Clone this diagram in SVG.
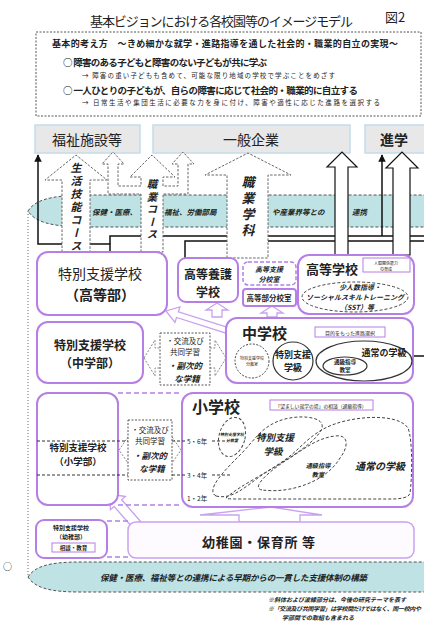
<svg xmlns="http://www.w3.org/2000/svg" width="424" height="633" viewBox="0 0 424 633">
<defs>
<style>
text{font-family:"Noto Sans CJK JP","Noto Sans",sans-serif;fill:#222}
.b{font-weight:bold}
.i{font-style:italic;font-weight:bold}
.m{text-anchor:middle}
.v{writing-mode:vertical-rl}
.pb{fill:#fff;stroke:#b57fe6;stroke-width:2}
.pl{fill:#fff;stroke:#b57fe6;stroke-width:1}
.pd{fill:none;stroke:#b57fe6;stroke-width:1.5;stroke-dasharray:5 3}
.pdb{fill:#fff;stroke:#b57fe6;stroke-width:1.5;stroke-dasharray:4 2}
.da{fill:#fff;stroke:#666;stroke-width:1;stroke-dasharray:2.5 1.5}
.sa{fill:#fff;stroke:#111;stroke-width:1.2}
.bl{fill:none;stroke:#111;stroke-width:1.5}
.teal{fill:#bfe2e4;stroke:#555;stroke-width:1;stroke-dasharray:3 2}
.dest{fill:#e8e8e8;stroke:#c5dced;stroke-width:1.5}
.ha{fill:#fff;stroke:#c7a2ee;stroke-width:1.3}
.xa{fill:#fff;stroke:#888;stroke-width:1;stroke-dasharray:2 1.5}
.xb{fill:#fff;stroke:#555;stroke-width:1;stroke-dasharray:2 1.5}
.blob{fill:none;stroke:#444;stroke-width:1;stroke-dasharray:3 2}
.gl{fill:none;stroke:#333;stroke-width:1;stroke-dasharray:3 2}
</style>
<marker id="ah" viewBox="0 0 10 10" refX="9" refY="5" markerWidth="5" markerHeight="5" orient="auto"><path d="M0,0 L10,5 L0,10 z" fill="#111"/></marker>
</defs>
<rect width="424" height="633" fill="#fff"/>

<g id="title">
<text x="90" y="26" font-size="13" textLength="263">基本ビジョンにおける各校園等のイメージモデル</text>
<text x="385" y="22" font-size="13">図2</text>
</g>

<g id="header">
<rect x="36" y="32" width="385" height="84" fill="#fff" stroke="#555" stroke-width="1" stroke-dasharray="2 1.5"/>
<text x="52" y="47" font-size="9" class="b" textLength="346">基本的考え方　～きめ細かな就学・進路指導を通した社会的・職業的自立の実現～</text>
<text x="63" y="66" font-size="9.5" class="b" textLength="204">○ 障害のある子どもと障害のない子どもが共に学ぶ</text>
<text x="82" y="78" font-size="6.5" textLength="253">→ 障害の重い子どもも含めて、可能な限り地域の学校で学ぶことをめざす</text>
<text x="63" y="94" font-size="9.5" class="b" textLength="295">○ 一人ひとりの子どもが、自らの障害に応じて社会的・職業的に自立する</text>
<text x="82" y="105" font-size="6.5" textLength="298">→ 日常生活や集団生活に必要な力を身に付け、障害や適性に応じた進路を選択する</text>
</g>

<g id="dest-welfare"><rect class="dest" x="35" y="125" width="105" height="28"/><text x="87" y="145" font-size="14" class="m" fill="#444">福祉施設等</text></g>
<g id="dest-company"><rect class="dest" x="153" y="125" width="197" height="28"/><text x="251" y="145" font-size="14" class="m">一般企業</text></g>
<g id="dest-further"><rect class="dest" x="365" y="125" width="62" height="28"/><text x="394" y="145" font-size="14" class="m b">進学</text></g>

<g id="band-top">
<path class="teal" d="M28,211 C35,200 50,196 80,195 L430,195 L430,227 L80,227 C50,226 35,222 28,211 Z"/>
<text x="92" y="215" font-size="7.5" class="i">保健・医療、</text>
<text x="164" y="215" font-size="7.5" class="i">福祉、労働部局</text>
<text x="272" y="215" font-size="7.5" class="i">や産業界等との</text>
<text x="352" y="215" font-size="7.5" class="i">連携</text>
</g>

<line x1="28" y1="211" x2="28" y2="577" stroke="#666" stroke-width="1" stroke-dasharray="1 2"/>

<g id="connectors">
<path class="bl" d="M110,252 V244 H38 V155" marker-end="url(#ah)"/>
<path class="bl" d="M110,244 V236 H430"/>
<path class="bl" d="M382,236 V155" marker-end="url(#ah)"/>
<path class="bl" d="M185,258 V241 H430"/>
<line class="bl" x1="413" y1="356" x2="424" y2="356"/>

<path class="da" d="M62,252 V180 H45 L76,155 L107,180 H90 V252 Z"/>
<path class="da" d="M141,252 V194 H108 V164 H102 L113,152 L124,164 H118 V186 H141 V177 H130 L152,155 L175,177 H163 V186 H178 V164 H172 L183,152 L194,164 H188 V194 H163 V252 Z"/>
<path class="da" d="M227,258 V175 H205 L248,153 L291,175 H268 V258 Z"/>
<path class="sa" d="M335,255 V167 H327 L342,152 L357,167 H348 V255 Z"/>
<path class="sa" d="M393,255 V168 H386 L402,152 L418,168 H410 V255 Z"/>
<text x="76" y="162" font-size="11" letter-spacing="2" class="v i">生活技能コース</text>
<text x="152" y="179" font-size="10.5" letter-spacing="2" class="v i">職業コース</text>
<text x="248" y="176" font-size="13" letter-spacing="3" class="v i">職業学科</text>

<polygon class="ha" points="226.9,327.1 178.4,311.8 179.9,307 166,311 175,322.3 176.5,317.5 225.1,332.9"/>
<polygon class="ha" points="212,317 212,310 206,310 217,303 228,310 222,310 222,317"/>
<polygon class="ha" points="267,317 267,313 261,313 272,306 283,313 277,313 277,317"/>
<polygon class="ha" points="140.8,521.7 121.7,499.8 125.4,496.5 110,494 110.4,509.7 114.1,506.4 133.2,528.3"/>
<polygon class="ha" points="239,522 239,515 200,515 271,507 322,515 300,515 300,522"/>

<path class="pd" d="M118,393 H182 M118,505 H182 M107,521 H128 M107,557 H128"/>

<polygon class="xa" points="144,358 155,340 155,348 215,348 215,340 226,358 215,376 215,368 155,368 155,376"/>
<polygon class="xa" points="119,450 130,434 130,441 170,441 170,434 181,450 170,466 170,459 130,459 130,466"/>
</g>

<g id="sp-high">
<rect class="pb" x="37" y="252" width="130" height="63" rx="11"/>
<text x="100" y="279" font-size="14" class="m">特別支援学校</text>
<text x="100" y="300" font-size="14" class="m b">（高等部）</text>
</g>

<g id="koto-yogo">
<rect class="pb" x="178" y="258" width="60" height="44" rx="8"/>
<text x="208" y="279" font-size="12" class="m b">高等養護</text>
<text x="208" y="297" font-size="12" class="m b">学校</text>
</g>

<g id="shien-bunko">
<rect class="pdb" x="243" y="262" width="53" height="23" rx="5"/>
<text x="269" y="272" font-size="7" class="m i">高等支援</text>
<text x="269" y="282" font-size="7" class="m i">分校室</text>
</g>

<g id="kotobu-bunko">
<rect class="pb" x="243" y="289" width="53" height="17" rx="3"/>
<text x="269" y="301" font-size="7.5" class="m b">高等部分校室</text>
</g>

<g id="high-school">
<rect class="pb" x="298" y="255" width="116" height="59" rx="11"/>
<text x="332" y="274" font-size="13" class="m b">高等学校</text>
<rect class="pl" x="363" y="258" width="47" height="14"/>
<text x="386" y="264.5" font-size="4" class="m">人間関係能力</text>
<text x="386" y="270.5" font-size="4" class="m">の育成</text>
<ellipse cx="355" cy="297" rx="53" ry="15" fill="#fff" stroke="#444" stroke-width="1" stroke-dasharray="3 2"/>
<text x="360" y="289.5" font-size="7" class="m i">少人数指導・</text>
<text x="355" y="299.5" font-size="7" class="m i">ソーシャルスキルトレーニング</text>
<text x="357" y="309.5" font-size="7" class="m i">（SST）等</text>
</g>

<g id="sp-junior">
<rect class="pb" x="37" y="322" width="106" height="61" rx="11"/>
<text x="90" y="350" font-size="12" class="m b">特別支援学校</text>
<text x="90" y="368" font-size="12" class="m b">（中学部）</text>
</g>

<g id="exchange-junior">
<rect class="xb" x="160" y="333" width="50" height="52"/>
<text x="185" y="344" font-size="7.5" class="m">・交流及び</text>
<text x="185" y="355" font-size="7.5" class="m">共同学習</text>
<text x="185" y="369" font-size="8.5" class="m i">・副次的</text>
<text x="187" y="381.5" font-size="8.5" class="m i">な学籍</text>
</g>

<g id="junior-high">
<rect class="pb" x="226" y="318" width="187" height="65" rx="11"/>
<text x="242" y="339" font-size="15" class="b">中学校</text>
<rect class="pl" x="315" y="327" width="70" height="10"/>
<text x="350" y="334.5" font-size="5" class="m">目的をもった進路選択</text>
<circle cx="252" cy="361" r="17" fill="none" stroke="#444" stroke-width="1" stroke-dasharray="2 1.5"/>
<text x="252" y="360" font-size="4" class="m">特別支援学校</text>
<text x="252" y="366" font-size="4" class="m">分教室</text>
<ellipse cx="293" cy="361" rx="20" ry="19" fill="none" stroke="#333" stroke-width="1.2"/>
<text x="293" y="358" font-size="9" class="m b">特別支援</text>
<text x="293" y="371" font-size="9" class="m b">学級</text>
<ellipse cx="364" cy="361" rx="48" ry="20" fill="none" stroke="#333" stroke-width="1.2"/>
<text x="384" y="356" font-size="9" class="m b">通常の学級</text>
<ellipse cx="345" cy="366" rx="22" ry="9" fill="none" stroke="#333" stroke-width="1.2"/>
<text x="345" y="363.5" font-size="5.5" class="m b">通級指導</text>
<text x="345" y="371.5" font-size="5.5" class="m b">教室</text>
</g>

<g id="sp-elem">
<rect class="pb" x="37" y="393" width="81" height="112" rx="11"/>
<text x="78" y="451" font-size="9.5" class="m b">特別支援学校</text>
<text x="78" y="465" font-size="9.5" class="m b">（小学部）</text>
</g>

<g id="exchange-elem">
<rect class="xb" x="128" y="420" width="44" height="60"/>
<text x="150" y="433" font-size="7.5" class="m">・交流及び</text>
<text x="150" y="444" font-size="7.5" class="m">共同学習</text>
<text x="150" y="459" font-size="8.5" class="m i">・副次的</text>
<text x="152" y="471.5" font-size="8.5" class="m i">な学籍</text>
</g>

<g id="elementary">
<rect class="pb" x="182" y="393" width="231" height="114" rx="11"/>
<text x="192" y="413" font-size="16" class="b">小学校</text>
<rect class="pl" x="270" y="400" width="103" height="10"/>
<text x="321" y="407.5" font-size="4.8" class="m">「望ましい就学の場」の相談（通級指導）</text>
<path class="blob" d="M226,498 C240,485 270,472 290,456 C305,444 315,428 345,421 C370,415 400,416 408,428 C413,440 412,480 410,493 C409,498 400,499 390,499 L240,499 C232,499 226,499 226,498 Z"/>
<path class="blob" d="M216,496 C205,490 225,470 240,455 C255,440 262,425 285,419 C305,414 330,418 320,432 C310,447 285,460 262,475 C245,487 232,500 216,496 Z"/>
<path class="blob" d="M262,490 C250,488 270,470 290,458 C305,448 318,438 335,436 C350,434 348,448 340,458 C330,475 310,485 290,489 C280,491 270,491 262,490 Z"/>
<ellipse class="blob" cx="232" cy="437" rx="13" ry="20" transform="rotate(15 232 437)"/>
<text x="232" y="436" font-size="4" class="m i">特別支援学校</text>
<text x="232" y="442" font-size="4" class="m i">分教室</text>
<text x="275" y="441" font-size="9.5" class="m i">特別支援</text>
<text x="273" y="455" font-size="9.5" class="m i">学級</text>
<text x="318" y="468" font-size="6.2" class="m i">通級指導</text>
<text x="318" y="477" font-size="6.2" class="m i">教室</text>
<text x="380" y="470" font-size="10" class="m i">通常の学級</text>
<text x="187" y="444" font-size="6.5">5・6年</text>
<text x="187" y="478" font-size="6.5">3・4年</text>
<text x="187" y="501" font-size="6.5">1・2年</text>
</g>
<path class="gl" d="M37,441 H128 M172,441 H186 M212,441 H228 M37,475 H128 M172,475 H186 M212,475 H230"/>

<g id="sp-kinder">
<rect class="pb" x="36" y="520" width="71" height="38" rx="8"/>
<text x="71" y="530" font-size="6" class="m b">特別支援学校</text>
<text x="71" y="539" font-size="6" class="m b">（幼稚部）</text>
<rect class="pl" x="52" y="543" width="43" height="9"/>
<text x="73.5" y="550" font-size="5.5" class="m b">相談・教育</text>
</g>

<g id="kindergarten">
<rect x="128" y="522" width="286" height="36" rx="8" fill="#fdfbff" stroke="#c9a2ee" stroke-width="1.5"/>
<text x="202" y="547" font-size="13" class="b" textLength="113">幼稚園・保育所 等</text>
</g>

<g id="band-bottom">
<path class="teal" d="M28,577 C35,566 50,562 80,562 L430,562 L430,592 L80,592 C50,592 35,588 28,577 Z"/>
<text x="100" y="581" font-size="8.5" class="i" textLength="267">保健・医療、福祉等との連携による早期からの一貫した支援体制の構築</text>
</g>

<text x="3" y="570" font-size="9">○</text>

<g id="notes">
<text x="268" y="602" font-size="6" class="i">※斜体および波線部分は、今後の研究テーマを表す</text>
<text x="268" y="611" font-size="6" class="i" textLength="153">※「交流及び共同学習」は学校間だけではなく、同一校内や</text>
<text x="282" y="620" font-size="6" class="i">学部間での取組も含まれる</text>
</g>
</svg>
